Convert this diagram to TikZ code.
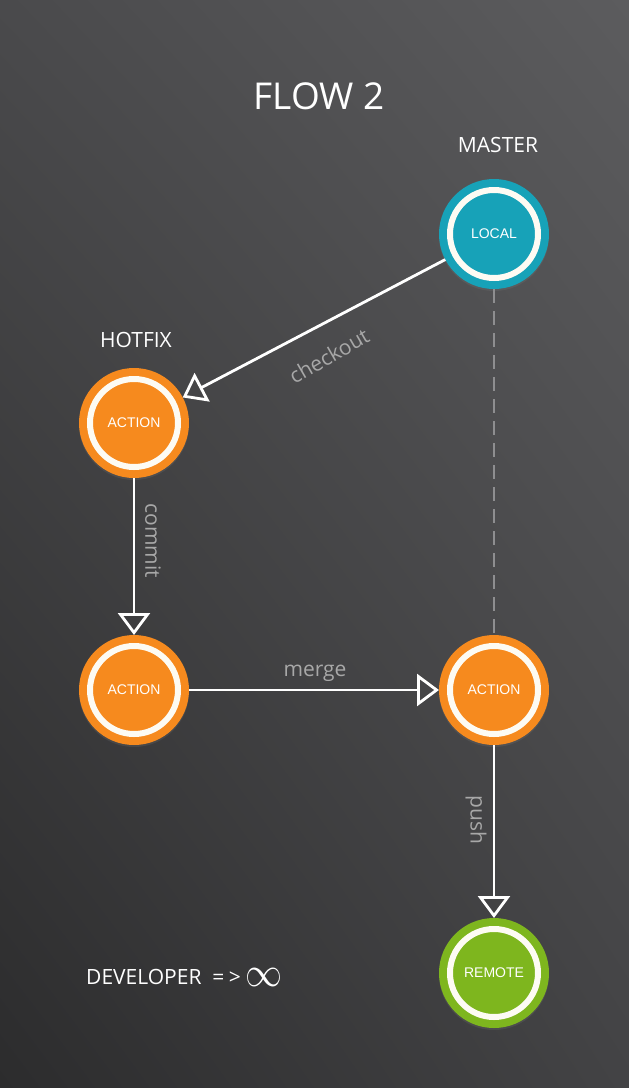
\documentclass[tikz,border=0pt]{standalone}
\usepackage{fontspec}
\setmainfont{Open Sans}
\newfontfamily\nodefont{Liberation Sans}
\usetikzlibrary{arrows.meta,shadows,shadings}
\definecolor{bgUL}{HTML}{4A4A4C}
\definecolor{bgUR}{HTML}{5C5C5E}
\definecolor{bgLL}{HTML}{2C2C2D}
\definecolor{bgLR}{HTML}{434345}
\definecolor{tealc}{HTML}{17A2B8}
\definecolor{orangec}{HTML}{F68A1E}
\definecolor{greenc}{HTML}{7EB61E}
\definecolor{ringc}{HTML}{FDFBF3}
\definecolor{lblc}{HTML}{A8A8A8}
\definecolor{dashc}{HTML}{8E8E90}
\tikzset{
  ball/.style={circle, minimum size=110pt, inner sep=0pt, outer sep=0pt,
    fill=#1, text=white, font=\nodefont\fontsize{14}{14}\selectfont,
    drop shadow={shadow xshift=0pt, shadow yshift=-2pt, opacity=.2},
    path picture={\draw[ringc, line width=6pt] (path picture bounding box.center) circle[radius=44pt];}},
  conn/.style={white, line width=2.8pt, -{Triangle[open, length=22pt, width=32pt, line width=2.8pt]}},
  dashline/.style={dashc, line width=2pt, dash pattern=on 14pt off 8pt},
  lbl/.style={text=lblc, font=\fontsize{21}{21}\selectfont, inner sep=0pt},
  head/.style={text=white, font=\fontsize{21}{21}\selectfont, inner sep=0pt},
}
\begin{document}
\begin{tikzpicture}[x=1pt,y=-1pt]
\shade[upper left=bgUL, upper right=bgUR, lower left=bgLL, lower right=bgLR] (0,0) rectangle (629,1088);
\useasboundingbox (0,0) rectangle (629,1088);

\node[text=white, font=\fontsize{37}{37}\selectfont, inner sep=0pt] (title) at (319,96) {FLOW 2};
\node[head] (master) at (498,145) {MASTER};
\node[head] (hotfix) at (136,340) {HOTFIX};
\node[head, anchor=west] (dev) at (86,977) {DEVELOPER \ = \kern-1pt >\kern5pt\raisebox{-2pt}{\resizebox{37pt}{18pt}{$\infty$}}};

\node[ball=tealc] (local) at (494,234) {LOCAL};
\node[ball=orangec] (hot) at (134,423) {ACTION};
\node[ball=orangec] (act2) at (134,690) {ACTION};
\node[ball=orangec] (act3) at (494,690) {ACTION};
\node[ball=greenc] (remote) at (494,973) {REMOTE};

\draw[dashline] (local) -- (act3);
\draw[conn] (local) -- (hot);
\draw[conn] (hot) -- (act2);
\draw[conn] (act2) -- (act3);
\draw[conn] (act3) -- (remote);

\node[lbl, rotate=30] (lcheckout) at (329,356) {checkout};
\node[lbl, rotate=-90] (lcommit) at (153,541) {commit};
\node[lbl] (lmerge) at (315,673) {merge};
\node[lbl, rotate=-90] (lpush) at (476,820) {push};
\end{tikzpicture}
\end{document}
